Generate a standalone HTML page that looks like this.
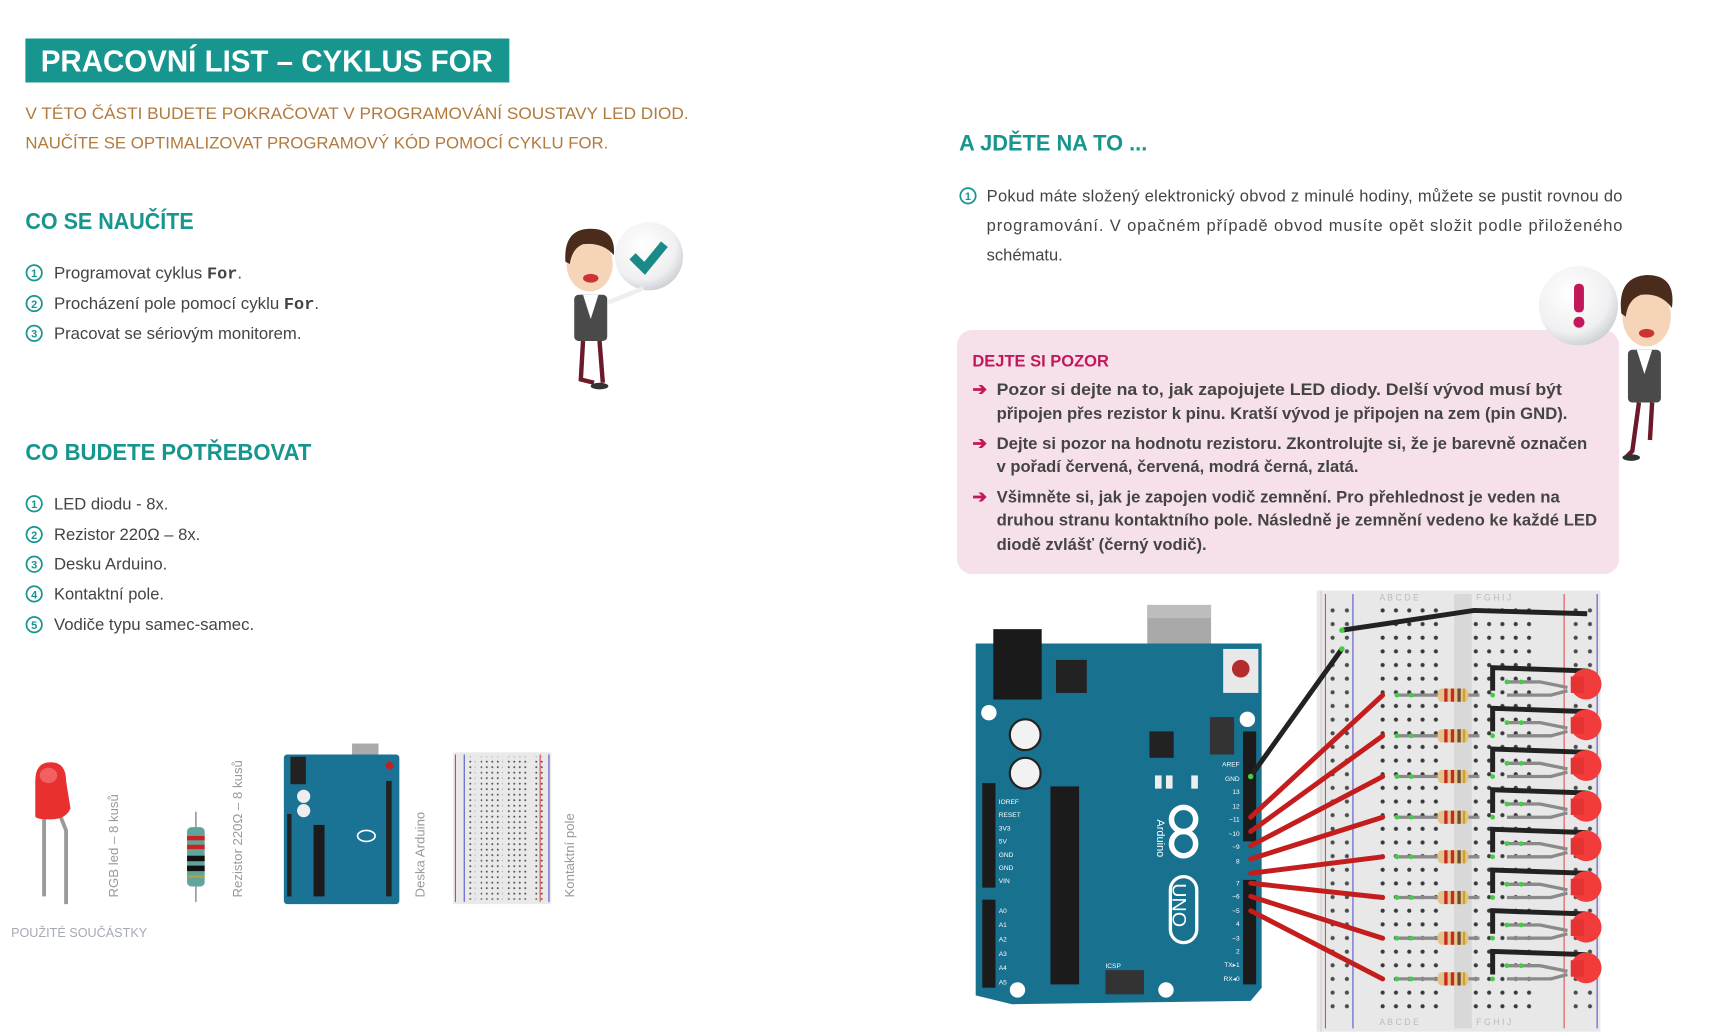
<!DOCTYPE html>
<html><head><meta charset="utf-8"><style>
html,body{margin:0;padding:0;background:#fff;}
svg{display:block;}
text{font-family:"Liberation Sans",sans-serif;}
</style></head><body>
<svg width="1716" height="1035" viewBox="0 0 1560 941" xmlns="http://www.w3.org/2000/svg">
<defs>
<pattern id="dots" x="1251" y="549" width="12.1" height="12.41" patternUnits="userSpaceOnUse"><circle cx="6" cy="6" r="1.9" fill="#3a3a3a"/></pattern>
<pattern id="rdots" x="1205" y="549" width="13" height="12.41" patternUnits="userSpaceOnUse"><circle cx="6.5" cy="6" r="1.9" fill="#3a3a3a"/></pattern>
<pattern id="sdots" x="0" y="0" width="5" height="5" patternUnits="userSpaceOnUse"><circle cx="2.5" cy="2.5" r="0.9" fill="#555"/></pattern>
<radialGradient id="ball" cx="0.4" cy="0.35" r="0.7"><stop offset="0" stop-color="#fff"/><stop offset="0.7" stop-color="#f0f0f2"/><stop offset="1" stop-color="#c8ccd2"/></radialGradient>
<g id="unit">
 <line x1="1270" y1="632" x2="1345" y2="632" stroke="#8a8a8a" stroke-width="3"/>
 <rect x="1307" y="626" width="28" height="12" rx="4" fill="#e3c48a"/>
 <rect x="1313" y="626" width="3" height="12" fill="#c62828"/><rect x="1319" y="626" width="3" height="12" fill="#c62828"/><rect x="1325" y="626" width="3" height="12" fill="#6d4c2f"/><rect x="1330" y="626" width="2" height="12" fill="#c9a227"/>
 <polyline points="1370,620 1400,620 1425,625" fill="none" stroke="#8a8a8a" stroke-width="3"/>
 <polyline points="1370,632 1410,632 1425,628" fill="none" stroke="#8a8a8a" stroke-width="3"/>
 <polyline points="1357,628 1357,607 1443,610" fill="none" stroke="#222" stroke-width="4.5"/>
 <circle cx="1443" cy="610" r="2.5" fill="#5c5"/>
 <circle cx="1442" cy="622" r="14" fill="#f23b3b"/><rect x="1428" y="615" width="12" height="15" fill="#e53232"/>
 <circle cx="1270" cy="632" r="2.2" fill="#4c4"/><circle cx="1283" cy="632" r="2.2" fill="#4c4"/><circle cx="1357" cy="632" r="2.2" fill="#4c4"/><circle cx="1370" cy="620" r="2.2" fill="#4c4"/><circle cx="1383" cy="620" r="2.2" fill="#4c4"/>
</g>
</defs>

<!-- Title -->
<rect x="23" y="35" width="440" height="40" fill="#17958f"/>
<text x="37" y="65" font-size="28" font-weight="bold" fill="#fff" textLength="411" lengthAdjust="spacingAndGlyphs">PRACOVNÍ LIST – CYKLUS FOR</text>
<text x="23" y="108" font-size="15" fill="#b27a3c" textLength="603" lengthAdjust="spacingAndGlyphs">V TÉTO ČÁSTI BUDETE POKRAČOVAT V PROGRAMOVÁNÍ SOUSTAVY LED DIOD.</text>
<text x="23" y="135" font-size="15" fill="#b27a3c" textLength="530" lengthAdjust="spacingAndGlyphs">NAUČÍTE SE OPTIMALIZOVAT PROGRAMOVÝ KÓD POMOCÍ CYKLU FOR.</text>

<text x="23" y="208" font-size="21" font-weight="bold" fill="#17958f" textLength="153" lengthAdjust="spacingAndGlyphs">CO SE NAUČÍTE</text>
<g fill="#444" font-size="15">
<text x="49" y="253" textLength="171" lengthAdjust="spacingAndGlyphs">Programovat cyklus <tspan font-family="Liberation Mono" font-weight="bold">For</tspan>.</text>
<text x="49" y="281" textLength="241" lengthAdjust="spacingAndGlyphs">Procházení pole pomocí cyklu <tspan font-family="Liberation Mono" font-weight="bold">For</tspan>.</text>
<text x="49" y="308" textLength="225" lengthAdjust="spacingAndGlyphs">Pracovat se sériovým monitorem.</text>
</g>
<g fill="none" stroke="#17958f" stroke-width="1.6">
<circle cx="31" cy="248" r="7"/><circle cx="31" cy="276" r="7"/><circle cx="31" cy="303" r="7"/>
<circle cx="31" cy="458" r="7"/><circle cx="31" cy="486" r="7"/><circle cx="31" cy="513" r="7"/><circle cx="31" cy="540" r="7"/><circle cx="31" cy="568" r="7"/>
<circle cx="880" cy="178" r="7"/>
</g>
<g fill="#17958f" font-size="10" font-weight="bold" text-anchor="middle">
<text x="31" y="252">1</text><text x="31" y="280">2</text><text x="31" y="307">3</text>
<text x="31" y="462">1</text><text x="31" y="490">2</text><text x="31" y="517">3</text><text x="31" y="544">4</text><text x="31" y="572">5</text>
<text x="880" y="182">1</text>
</g>

<text x="23" y="418" font-size="21" font-weight="bold" fill="#17958f" textLength="260" lengthAdjust="spacingAndGlyphs">CO BUDETE POTŘEBOVAT</text>
<g fill="#444" font-size="15">
<text x="49" y="463" textLength="104" lengthAdjust="spacingAndGlyphs">LED diodu - 8x.</text>
<text x="49" y="491" textLength="133" lengthAdjust="spacingAndGlyphs">Rezistor 220Ω – 8x.</text>
<text x="49" y="518" textLength="103" lengthAdjust="spacingAndGlyphs">Desku Arduino.</text>
<text x="49" y="545" textLength="100" lengthAdjust="spacingAndGlyphs">Kontaktní pole.</text>
<text x="49" y="573" textLength="182" lengthAdjust="spacingAndGlyphs">Vodiče typu samec-samec.</text>
</g>

<!-- character 1 -->
<circle cx="590" cy="233" r="31" fill="url(#ball)"/>
<polyline points="575,233 586,244 604,222" fill="none" stroke="#1a8a88" stroke-width="8"/>
<line x1="553" y1="275" x2="585" y2="262" stroke="#eee" stroke-width="4"/>
<rect x="522" y="268" width="30" height="42" rx="4" fill="#4a4a4a"/>
<polygon points="530,268 544,268 537,290" fill="#fff"/>
<polyline points="530,310 528,345 540,348" fill="none" stroke="#6b1a2a" stroke-width="4"/>
<polyline points="545,310 548,348" fill="none" stroke="#6b1a2a" stroke-width="4"/>
<ellipse cx="545" cy="351" rx="8" ry="3" fill="#333"/>
<ellipse cx="536" cy="240" rx="21" ry="25" fill="#f6d4b8"/>
<path d="M514,238 Q512,208 537,208 Q560,208 558,232 Q548,220 530,222 Q520,226 518,240 Z" fill="#4a2c1c"/>
<ellipse cx="537" cy="253" rx="7" ry="4" fill="#c33"/>

<!-- components -->
<line x1="40" y1="740" x2="40" y2="815" stroke="#9a9a9a" stroke-width="3.5"/>
<polyline points="54,740 60,755 60,822" fill="none" stroke="#9a9a9a" stroke-width="3.5"/>
<path d="M32,742 L32,710 Q32,693 46,693 Q60,693 60,710 L64,735 Q60,745 46,745 Q32,745 32,742Z" fill="#e83030"/>
<ellipse cx="44" cy="705" rx="8" ry="7" fill="#f26060"/>
<line x1="178" y1="738" x2="178" y2="820" stroke="#999" stroke-width="1.5"/>
<rect x="170" y="752" width="16" height="54" rx="4" fill="#5fa59b"/>
<rect x="170" y="760" width="16" height="4" fill="#c22"/><rect x="170" y="768" width="16" height="4" fill="#c22"/><rect x="170" y="778" width="16" height="5" fill="#111"/><rect x="170" y="787" width="16" height="5" fill="#111"/><rect x="170" y="796" width="16" height="2" fill="#b9a23a"/>
<rect x="320" y="676" width="24" height="28" fill="#aaa"/>
<rect x="258" y="686" width="105" height="136" rx="3" fill="#1a7395"/>
<rect x="264" y="688" width="14" height="25" fill="#222"/>
<rect x="285" y="750" width="10" height="65" fill="#1b1b1b"/>
<rect x="351" y="710" width="5" height="105" fill="#222"/><rect x="261" y="740" width="4" height="75" fill="#222"/>
<circle cx="276" cy="724" r="6" fill="#eee"/><circle cx="276" cy="737" r="6" fill="#eee"/>
<circle cx="354" cy="696" r="3.5" fill="#b22"/>
<ellipse cx="333" cy="760" rx="8" ry="5" fill="none" stroke="#fff" stroke-width="1.5"/>
<rect x="412" y="684" width="89" height="138" fill="#e9e9e9"/>
<rect x="424" y="688" width="8" height="130" fill="url(#sdots)"/><rect x="437" y="688" width="20" height="130" fill="url(#sdots)"/><rect x="461" y="688" width="20" height="130" fill="url(#sdots)"/><rect x="486" y="688" width="8" height="130" fill="url(#sdots)"/>
<line x1="414" y1="686" x2="414" y2="820" stroke="#d44" stroke-width="1"/><line x1="422" y1="686" x2="422" y2="820" stroke="#55c" stroke-width="1"/>
<line x1="491" y1="686" x2="491" y2="820" stroke="#d44" stroke-width="1"/><line x1="499" y1="686" x2="499" y2="820" stroke="#55c" stroke-width="1"/>
<g fill="#999" font-size="12">
<text transform="translate(107,816) rotate(-90)">RGB led – 8 kusů</text>
<text transform="translate(220,816) rotate(-90)">Rezistor 220Ω – 8 kusů</text>
<text transform="translate(386,816) rotate(-90)">Deska Arduino</text>
<text transform="translate(522,816) rotate(-90)">Kontaktní pole</text>
<text x="10" y="852" font-size="11.5" fill="#a5a9b4">POUŽITÉ SOUČÁSTKY</text>
</g>

<!-- right column -->
<text x="872" y="137" font-size="20" font-weight="bold" fill="#17958f" textLength="171" lengthAdjust="spacingAndGlyphs">A JDĚTE NA TO ...</text>
<g fill="#444" font-size="15">
<text x="897" y="183" textLength="578" lengthAdjust="spacing">Pokud máte složený elektronický obvod z minulé hodiny, můžete se pustit rovnou do</text>
<text x="897" y="210" textLength="578" lengthAdjust="spacing">programování. V opačném případě obvod musíte opět složit podle přiloženého</text>
<text x="897" y="237">schématu.</text>
</g>
<rect x="870" y="300" width="602" height="222" rx="14" fill="#f6e1ea"/>
<text x="884" y="333" font-size="15" font-weight="bold" fill="#c2185b">DEJTE SI POZOR</text>
<g fill="#c2185b" font-size="16" font-weight="bold">
<text x="884" y="359">➔</text><text x="884" y="408">➔</text><text x="884" y="457">➔</text>
</g>
<g fill="#444" font-size="15" font-weight="bold">
<text x="906" y="359" textLength="514" lengthAdjust="spacingAndGlyphs">Pozor si dejte na to, jak zapojujete LED diody. Delší vývod musí být</text>
<text x="906" y="381" textLength="519" lengthAdjust="spacingAndGlyphs">připojen přes rezistor k pinu. Kratší vývod je připojen na zem (pin GND).</text>
<text x="906" y="408" textLength="537" lengthAdjust="spacingAndGlyphs">Dejte si pozor na hodnotu rezistoru. Zkontrolujte si, že je barevně označen</text>
<text x="906" y="429" textLength="329" lengthAdjust="spacingAndGlyphs">v pořadí červená, červená, modrá černá, zlatá.</text>
<text x="906" y="457" textLength="512" lengthAdjust="spacingAndGlyphs">Všimněte si, jak je zapojen vodič zemnění. Pro přehlednost je veden na</text>
<text x="906" y="478" textLength="546" lengthAdjust="spacingAndGlyphs">druhou stranu kontaktního pole. Následně je zemnění vedeno ke každé LED</text>
<text x="906" y="500" textLength="191" lengthAdjust="spacingAndGlyphs">diodě zvlášť (černý vodič).</text>
</g>

<!-- character 2 -->
<circle cx="1435" cy="278" r="36" fill="url(#ball)"/>
<rect x="1431" y="258" width="9" height="26" rx="4" fill="#c2185b"/><circle cx="1435.5" cy="293" r="5" fill="#c2185b"/>
<rect x="1480" y="318" width="30" height="48" rx="4" fill="#4a4a4a"/>
<polygon points="1488,318 1502,318 1495,340" fill="#fff"/>
<polyline points="1490,366 1484,410 1478,416" fill="none" stroke="#6b1a2a" stroke-width="4"/>
<polyline points="1502,366 1500,400" fill="none" stroke="#6b1a2a" stroke-width="4"/>
<ellipse cx="1483" cy="416" rx="8" ry="3" fill="#333"/>
<ellipse cx="1497" cy="288" rx="22" ry="27" fill="#f6d4b8"/>
<path d="M1474,285 Q1470,252 1497,250 Q1524,250 1520,280 Q1510,266 1492,268 Q1480,272 1478,288 Z" fill="#4a2c1c"/>
<ellipse cx="1497" cy="303" rx="7" ry="4" fill="#c33"/>

<!-- breadboard -->
<rect x="1197" y="537" width="258" height="401" fill="#e8e8e8"/>
<rect x="1322" y="540" width="16" height="395" fill="#d8d8d8"/>
<line x1="1201" y1="537" x2="1201" y2="938" stroke="#cfcfcf"/>
<line x1="1205" y1="540" x2="1205" y2="935" stroke="#e05050" stroke-width="1"/>
<line x1="1230" y1="540" x2="1230" y2="935" stroke="#5555cc" stroke-width="1"/>
<line x1="1422" y1="540" x2="1422" y2="935" stroke="#e05050" stroke-width="1"/>
<line x1="1452" y1="540" x2="1452" y2="935" stroke="#5555cc" stroke-width="1"/>
<rect x="1251" y="549" width="61" height="372" fill="url(#dots)"/>
<rect x="1339" y="549" width="61" height="372" fill="url(#dots)"/>
<rect x="1205" y="549" width="26" height="372" fill="url(#rdots)" opacity="0.9"/>
<rect x="1426" y="549" width="26" height="372" fill="url(#rdots)" opacity="0.9"/>
<g fill="#bbb" font-size="8"><text x="1254" y="546">A B C D E</text><text x="1342" y="546">F G H I J</text><text x="1254" y="932">A B C D E</text><text x="1342" y="932">F G H I J</text></g>

<!-- arduino -->
<rect x="1043" y="550" width="58" height="75" fill="#a9a9a9"/><rect x="1043" y="550" width="58" height="12" fill="#bdbdbd"/>
<path d="M887,585 L1147,585 L1147,898 L1137,910 L920,913 L887,905 Z" fill="#17718f"/>
<rect x="903" y="572" width="44" height="64" fill="#1a1a1a"/>
<rect x="960" y="600" width="28" height="30" fill="#222"/>
<rect x="1112" y="590" width="32" height="40" fill="#e8e8e8"/><circle cx="1128" cy="608" r="8" fill="#b52a2a"/>
<circle cx="899" cy="648" r="7" fill="#fff"/><circle cx="1134" cy="654" r="7" fill="#fff"/><circle cx="925" cy="900" r="7" fill="#fff"/><circle cx="1060" cy="900" r="7" fill="#fff"/>
<circle cx="932" cy="668" r="14" fill="#f2f2f2" stroke="#222" stroke-width="2"/><circle cx="932" cy="703" r="14" fill="#f2f2f2" stroke="#222" stroke-width="2"/>
<rect x="1045" y="665" width="22" height="24" fill="#222"/>
<rect x="955" y="715" width="26" height="180" fill="#1b1b1b"/>
<rect x="1100" y="652" width="22" height="34" fill="#333"/>
<rect x="1130" y="665" width="12" height="100" fill="#1b1b1b"/><rect x="1130" y="800" width="12" height="95" fill="#1b1b1b"/>
<rect x="893" y="712" width="12" height="95" fill="#1b1b1b"/><rect x="893" y="818" width="12" height="80" fill="#1b1b1b"/>
<rect x="1005" y="882" width="35" height="22" fill="#333"/>
<rect x="1050" y="705" width="6" height="12" fill="#eee"/><rect x="1060" y="705" width="6" height="12" fill="#eee"/><rect x="1083" y="705" width="6" height="12" fill="#eee"/>
<g fill="none" stroke="#fff" stroke-width="5"><circle cx="1076" cy="745" r="11"/><circle cx="1076" cy="767" r="11"/></g>
<rect x="1064" y="797" width="24" height="60" rx="12" fill="none" stroke="#fff" stroke-width="3"/>
<text transform="translate(1052,745) rotate(90)" font-size="10" fill="#fff">Arduino</text>
<text transform="translate(1066,803) rotate(90)" font-size="18" fill="#fff">UNO</text>
<g fill="#fff" font-size="6" text-anchor="end">
<text x="1127" y="697">AREF</text><text x="1127" y="710">GND</text><text x="1127" y="722">13</text><text x="1127" y="735">12</text><text x="1127" y="747">~11</text><text x="1127" y="760">~10</text><text x="1127" y="772">~9</text><text x="1127" y="785">8</text>
<text x="1127" y="805">7</text><text x="1127" y="817">~6</text><text x="1127" y="830">~5</text><text x="1127" y="842">4</text><text x="1127" y="855">~3</text><text x="1127" y="867">2</text><text x="1127" y="879">TX▸1</text><text x="1127" y="892">RX◂0</text>
</g>
<g fill="#fff" font-size="6">
<text x="908" y="731">IOREF</text><text x="908" y="743">RESET</text><text x="908" y="755">3V3</text><text x="908" y="767">5V</text><text x="908" y="779">GND</text><text x="908" y="791">GND</text><text x="908" y="803">VIN</text>
<text x="908" y="830">A0</text><text x="908" y="843">A1</text><text x="908" y="856">A2</text><text x="908" y="869">A3</text><text x="908" y="882">A4</text><text x="908" y="895">A5</text>
<text x="1005" y="880">ICSP</text>
</g>

<!-- wires -->
<g stroke="#222" stroke-width="4.5" fill="none">
<polyline points="1137,706 1220,590"/>
<polyline points="1220,573 1340,555 1443,558"/>
</g>
<g stroke="#c41d1d" stroke-width="4.5" stroke-linecap="round">
<line x1="1137" y1="743" x2="1257" y2="632"/>
<line x1="1137" y1="756" x2="1257" y2="669"/>
<line x1="1137" y1="769" x2="1257" y2="706"/>
<line x1="1137" y1="781" x2="1257" y2="743"/>
<line x1="1137" y1="794" x2="1257" y2="779"/>
<line x1="1137" y1="803" x2="1257" y2="816"/>
<line x1="1137" y1="815" x2="1257" y2="853"/>
<line x1="1137" y1="828" x2="1257" y2="890"/>
</g>
<use href="#unit"/>
<use href="#unit" y="37"/>
<use href="#unit" y="74"/>
<use href="#unit" y="111"/>
<use href="#unit" y="147"/>
<use href="#unit" y="184"/>
<use href="#unit" y="221"/>
<use href="#unit" y="258"/>
<g fill="#4c4"><circle cx="1220" cy="573" r="2.5"/><circle cx="1220" cy="590" r="2.5"/><circle cx="1137" cy="706" r="2.5"/></g>
</svg>
</body></html>
